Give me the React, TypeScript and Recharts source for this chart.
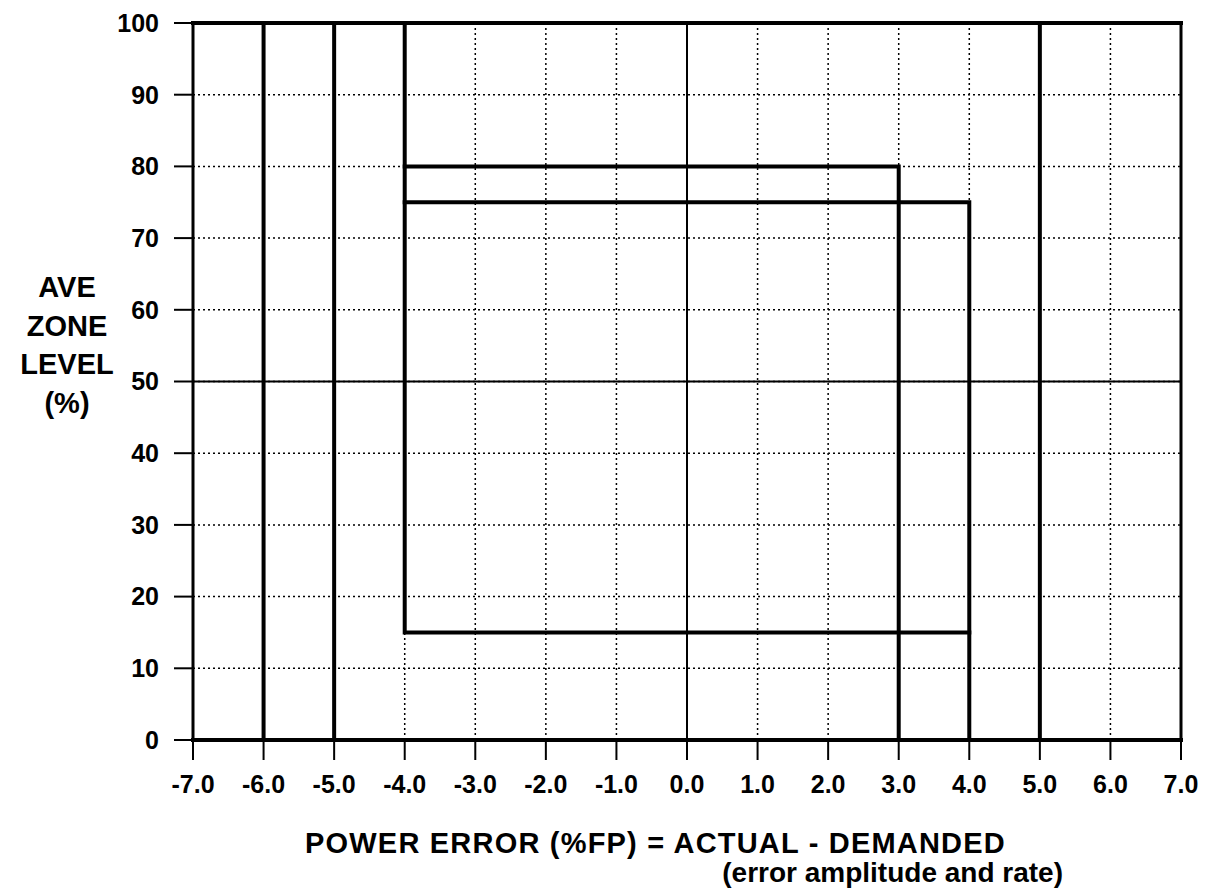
import React from 'react';
import {
  LineChart,
  Line,
  XAxis,
  YAxis,
  CartesianGrid,
  ReferenceLine,
} from 'recharts';

const xTicks = [-7, -6, -5, -4, -3, -2, -1, 0, 1, 2, 3, 4, 5, 6, 7];
const yTicks = [0, 10, 20, 30, 40, 50, 60, 70, 80, 90, 100];

// heavy limit lines (power error %FP, zone level %)
const lineMinus6 = [{ x: -6, y: 0 }, { x: -6, y: 100 }];
const lineMinus5 = [{ x: -5, y: 0 }, { x: -5, y: 100 }];
const linePlus5 = [{ x: 5, y: 0 }, { x: 5, y: 100 }];
const topEdge = [{ x: -7, y: 100 }, { x: 7, y: 100 }];
const rightEdge = [{ x: 7, y: 0 }, { x: 7, y: 100 }];
const bottomEdge = [{ x: -7, y: 0 }, { x: 7, y: 0 }];
const lowerBand = [{ x: -4, y: 100 }, { x: -4, y: 15 }, { x: 4, y: 15 }];
const band80 = [{ x: -4, y: 80 }, { x: 3, y: 80 }, { x: 3, y: 0 }];
const band75 = [{ x: -4, y: 75 }, { x: 4, y: 75 }, { x: 4, y: 0 }];

const yLabelLines = ['AVE', 'ZONE', 'LEVEL', '(%)'];
const xTitle = 'POWER ERROR (%FP) = ACTUAL - DEMANDED';
const xSubTitle = '(error amplitude and rate)';

const FONT = '"Liberation Sans", Arial, Helvetica, sans-serif';

const heavy = [lineMinus6, lineMinus5, linePlus5, topEdge, bottomEdge, lowerBand, band80, band75];

const XTitle = (props: any) => {
  const { viewBox } = props;
  const left = viewBox.x;
  return (
    <g fontFamily={FONT} fontWeight="bold" fill="#000">
      <text x={left + 112} y={853} fontSize={29} letterSpacing={1.2}>
        {xTitle}
      </text>
      <text x={left + 870} y={882} fontSize={28} textAnchor="end">
        {xSubTitle}
      </text>
    </g>
  );
};

const YTitle = () => (
  <g fontFamily={FONT} fontWeight="bold" fill="#000">
    {yLabelLines.map((t, i) => (
      <text key={t} x={67} y={297 + i * 38.5} fontSize={29} textAnchor="middle">
        {t}
      </text>
    ))}
  </g>
);

export default function App() {
  return (
    <div style={{ position: 'absolute', left: 0, top: 0, background: '#fff' }}>
      <LineChart
        width={1210}
        height={889}
        margin={{ top: 23, right: 29, left: 0, bottom: 0 }}
      >
        <CartesianGrid
          stroke="#000"
          strokeWidth={1.5}
          strokeDasharray="2 3"
          verticalValues={xTicks}
          horizontalValues={yTicks}
        />
        <XAxis
          type="number"
          dataKey="x"
          domain={[-7, 7]}
          ticks={xTicks}
          interval={0}
          tickFormatter={(v: number) => v.toFixed(1)}
          height={149}
          tickSize={20}
          tickMargin={15}
          axisLine={{ stroke: '#000', strokeWidth: 3 }}
          tickLine={{ stroke: '#000', strokeWidth: 2 }}
          tick={{ fill: '#000', fontSize: 25, fontWeight: 'bold', fontFamily: FONT }}
          label={<XTitle />}
        />
        <YAxis
          type="number"
          dataKey="y"
          domain={[0, 100]}
          ticks={yTicks}
          interval={0}
          width={193}
          tickSize={19}
          tickMargin={15}
          axisLine={{ stroke: '#000', strokeWidth: 3 }}
          tickLine={{ stroke: '#000', strokeWidth: 2 }}
          tick={{ fill: '#000', fontSize: 25, fontWeight: 'bold', fontFamily: FONT }}
          label={<YTitle />}
        />
        <ReferenceLine x={0} stroke="#000" strokeWidth={2} />
        <ReferenceLine y={50} stroke="#000" strokeWidth={2} />
        <Line
          data={rightEdge}
          dataKey="y"
          stroke="#000"
          strokeWidth={3}
          dot={false}
          isAnimationActive={false}
        />
        {heavy.map((d, i) => (
          <Line
            key={i}
            data={d}
            dataKey="y"
            type="linear"
            stroke="#000"
            strokeWidth={4}
            strokeLinejoin="miter"
            strokeLinecap="square"
            dot={false}
            activeDot={false}
            isAnimationActive={false}
          />
        ))}
      </LineChart>
    </div>
  );
}
